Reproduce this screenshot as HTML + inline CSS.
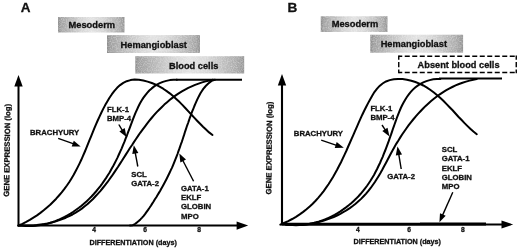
<!DOCTYPE html>
<html><head><meta charset="utf-8">
<style>
html,body{margin:0;padding:0;background:#fff;overflow:hidden}
svg{display:block}
text{font-family:"Liberation Sans",sans-serif;font-weight:bold;fill:#111;stroke:#111;stroke-width:0.3px}
</style></head><body>
<svg width="520" height="249" viewBox="0 0 520 249">
<defs>
<linearGradient id="g" x1="0" x2="1" y1="0" y2="0">
<stop offset="0" stop-color="#8c8c8c"/><stop offset="0.04" stop-color="#a0a0a0"/><stop offset="0.18" stop-color="#b8b8b8"/><stop offset="0.35" stop-color="#d4d4d4"/><stop offset="0.5" stop-color="#e2e2e2"/><stop offset="0.65" stop-color="#d8d8d8"/><stop offset="0.8" stop-color="#c0c0c0"/><stop offset="0.93" stop-color="#aaaaaa"/><stop offset="1" stop-color="#949494"/>
</linearGradient>
<filter id="n" x="0" y="0" width="100%" height="100%" color-interpolation-filters="sRGB">
<feTurbulence type="fractalNoise" baseFrequency="0.8" numOctaves="2" seed="3" result="t"/>
<feColorMatrix in="t" type="matrix" values="0 0 0 0 0  0 0 0 0 0  0 0 0 0 0  0.8 0 0 0 -0.3" result="a"/>
<feFlood flood-color="#ffffff" result="w"/>
<feComposite in="w" in2="a" operator="in" result="wn"/>
<feComposite in="wn" in2="SourceGraphic" operator="atop"/>
</filter>
</defs>
<rect width="520" height="249" fill="#fff"/>
<g id="A">
<text x="20.7" y="12.3" font-size="13.50">A</text>
<rect x="58" y="17" width="66.5" height="15.5" fill="url(#g)" filter="url(#n)"/>
<text x="68.5" y="27.6" font-size="9.32">Mesoderm</text>
<rect x="107" y="35.1" width="93" height="17.9" fill="url(#g)" filter="url(#n)"/>
<text x="120.6" y="47.7" font-size="9.25">Hemangioblast</text>
<rect x="135.3" y="56.2" width="108.9" height="17.3" fill="url(#g)" filter="url(#n)"/>
<text x="169.0" y="68.9" font-size="9.25">Blood cells</text>
<path d="M18.5,84 V225.6 H240" fill="none" stroke="#000" stroke-width="2"/>
<path d="M18.5,75 L14.3,86.6 H22.7Z" fill="#000"/>
<path d="M248.2,225.6 L236.6,221.5 V229.7Z" fill="#000"/>
<path d="M176,79.75 H242" fill="none" stroke="#000" stroke-width="2"/>
<g fill="none" stroke="#000" stroke-width="2" stroke-linecap="round" stroke-linejoin="round">
<path d="M18.5,225.5 L22.4,223.8 L26.2,221.9 L29.8,219.9 L33.4,217.7 L37.0,215.4 L40.4,212.9 L43.7,210.3 L47.0,207.5 L50.2,204.7 L53.2,201.7 L56.2,198.7 L59.0,195.5 L61.7,192.3 L64.4,188.9 L66.9,185.5 L69.3,182.0 L71.5,178.4 L73.7,174.8 L75.7,171.1 L77.6,167.4 L79.5,163.6 L81.3,159.8 L83.0,155.9 L84.7,152.0 L86.3,148.1 L87.9,144.2 L89.5,140.2 L91.1,136.3 L92.7,132.3 L94.3,128.4 L96.0,124.4 L97.7,120.5 L99.5,116.6 L101.3,112.8 L103.2,108.9 L105.2,105.1 L107.3,101.4 L109.5,97.7 L111.9,94.2 L114.4,90.9 L117.1,87.8 L120.1,85.1 L123.3,82.9 L126.7,81.2 L130.5,80.1 L134.6,79.6 L138.9,79.8 L143.3,80.5 L147.6,81.6 L151.8,83.0 L155.8,84.7 L159.6,86.6 L163.2,88.7 L166.7,91.1 L170.1,93.6 L173.3,96.3 L176.5,99.2 L179.6,102.1 L182.6,105.1 L185.5,108.2 L188.4,111.4 L191.3,114.5 L194.2,117.6 L197.1,120.7 L200.1,123.8 L203.0,126.8 L206.0,129.6 L209.1,132.4 L212.5,135.0"/>
<path d="M18.5,225.5 L21.9,225.6 L25.4,225.9 L28.8,226.0 L32.3,226.0 L35.7,225.7 L39.0,225.3 L42.4,224.8 L45.7,224.1 L48.9,223.2 L52.1,222.2 L55.3,221.1 L58.5,219.8 L61.5,218.4 L64.6,216.9 L67.5,215.3 L70.5,213.6 L73.3,211.8 L76.1,209.8 L78.9,207.8 L81.5,205.7 L84.1,203.5 L86.7,201.2 L89.1,198.9 L91.5,196.5 L93.8,194.0 L96.0,191.5 L98.1,188.9 L100.2,186.3 L102.2,183.6 L104.1,180.9 L106.0,178.1 L107.8,175.3 L109.6,172.5 L111.2,169.6 L112.9,166.6 L114.4,163.7 L116.0,160.6 L117.5,157.6 L118.9,154.5 L120.3,151.4 L121.7,148.3 L123.0,145.1 L124.4,141.9 L125.6,138.7 L126.9,135.5 L128.1,132.2 L129.4,128.9 L130.6,125.7 L131.8,122.4 L133.0,119.1 L134.3,115.9 L135.6,112.7 L137.0,109.6 L138.4,106.5 L139.9,103.5 L141.5,100.7 L143.3,97.9 L145.2,95.3 L147.2,92.8 L149.3,90.5 L151.7,88.4 L154.2,86.4 L156.9,84.7 L159.8,83.2 L162.9,81.9 L166.3,80.9 L169.8,80.1 L173.6,79.7 L177.0,79.8"/>
<path d="M18.5,225.5 L22.2,225.6 L25.9,225.6 L29.5,225.6 L33.2,225.4 L36.9,225.1 L40.6,224.6 L44.3,224.1 L48.0,223.4 L51.6,222.5 L55.2,221.5 L58.8,220.4 L62.3,219.1 L65.8,217.7 L69.2,216.2 L72.5,214.5 L75.7,212.6 L78.8,210.7 L81.8,208.6 L84.7,206.3 L87.6,204.0 L90.3,201.5 L93.0,199.0 L95.5,196.3 L98.0,193.6 L100.5,190.8 L102.8,188.0 L105.1,185.1 L107.4,182.2 L109.5,179.2 L111.7,176.2 L113.8,173.1 L115.8,170.1 L117.9,167.0 L119.9,163.9 L121.9,160.8 L123.8,157.7 L125.8,154.6 L127.8,151.5 L129.8,148.3 L131.9,145.2 L133.9,142.1 L136.0,139.0 L138.1,135.9 L140.2,132.8 L142.4,129.8 L144.7,126.8 L146.9,123.8 L149.2,120.9 L151.6,118.0 L154.0,115.2 L156.5,112.4 L159.1,109.8 L161.7,107.2 L164.3,104.6 L167.1,102.2 L169.9,99.8 L172.7,97.6 L175.7,95.4 L178.7,93.4 L181.9,91.4 L185.1,89.6 L188.3,87.9 L191.7,86.4 L195.1,84.9 L198.6,83.6 L202.1,82.4 L205.7,81.4 L209.4,80.5 L213.0,79.8"/>
<path d="M130.0,225.5 L132.8,225.2 L134.9,224.0 L136.8,222.6 L138.7,221.0 L140.4,219.4 L142.1,217.6 L143.7,215.8 L145.2,213.9 L146.6,211.9 L148.1,209.8 L149.5,207.8 L150.9,205.7 L152.2,203.6 L153.6,201.5 L154.9,199.3 L156.3,197.2 L157.6,195.0 L158.9,192.9 L160.2,190.7 L161.4,188.5 L162.7,186.2 L163.9,184.0 L165.1,181.8 L166.3,179.5 L167.4,177.3 L168.5,175.0 L169.6,172.7 L170.7,170.4 L171.8,168.1 L172.8,165.8 L173.8,163.4 L174.7,161.1 L175.7,158.7 L176.6,156.4 L177.5,154.0 L178.3,151.6 L179.2,149.2 L180.0,146.9 L180.8,144.5 L181.7,142.1 L182.5,139.7 L183.3,137.3 L184.1,134.9 L184.8,132.5 L185.6,130.1 L186.4,127.7 L187.2,125.3 L188.1,123.0 L188.9,120.6 L189.7,118.2 L190.6,115.9 L191.4,113.5 L192.3,111.2 L193.3,108.8 L194.2,106.5 L195.2,104.2 L196.2,101.9 L197.2,99.7 L198.3,97.4 L199.4,95.2 L200.6,93.0 L201.9,91.0 L203.3,88.9 L204.9,87.0 L206.5,85.2 L208.3,83.5 L210.3,81.9 L212.4,80.5 L215.0,79.8"/>
</g>
<text x="30.0" y="134.5" font-size="7.75">BRACHYURY</text>
<path d="M58.2,138.3 L73.7,143.9" stroke="#000" stroke-width="1.4" fill="none"/><path d="M80.7,146.5 L71.7,146.5 L73.8,140.7 Z" fill="#000"/><text x="107.0" y="111.5" font-size="7.75">FLK-1</text>
<text x="107.0" y="120.8" font-size="7.75">BMP-4</text>
<path d="M118.8,124.5 L122.5,130.6" stroke="#000" stroke-width="1.4" fill="none"/><path d="M126.5,137.0 L119.4,131.4 L124.7,128.1 Z" fill="#000"/><text x="131.3" y="176.5" font-size="7.75">SCL</text>
<text x="131.3" y="185.8" font-size="7.75">GATA-2</text>
<path d="M137.8,166.5 L135.2,152.6" stroke="#000" stroke-width="1.4" fill="none"/><path d="M133.8,145.2 L138.4,153.0 L132.3,154.1 Z" fill="#000"/><text x="181.0" y="191.0" font-size="7.75">GATA-1</text>
<text x="181.0" y="200.2" font-size="7.75">EKLF</text>
<text x="181.0" y="209.4" font-size="7.75">GLOBIN</text>
<text x="181.0" y="218.6" font-size="7.75">MPO</text>
<path d="M193.6,181.2 L182.7,160.2" stroke="#000" stroke-width="1.4" fill="none"/><path d="M179.3,153.5 L186.0,159.6 L180.4,162.5 Z" fill="#000"/><text x="92.3" y="232.4" font-size="6.70">4</text>
<text x="143.2" y="232.4" font-size="6.70">6</text>
<text x="197.2" y="232.4" font-size="6.70">8</text>
<text x="89.5" y="244.5" font-size="7.19">DIFFERENTIATION (days)</text>
<text transform="translate(9.1,196.7) rotate(-89.2)" font-size="7.7">GENE EXPRESSION (log)</text>
</g>
<g id="B">
<text x="287.6" y="11.6" font-size="13.60">B</text>
<rect x="320.75" y="16.25" width="66.75" height="15.75" fill="url(#g)" filter="url(#n)"/>
<text x="331.7" y="27.1" font-size="9.32">Mesoderm</text>
<rect x="370.3" y="34.7" width="92.8" height="18" fill="url(#g)" filter="url(#n)"/>
<text x="380.7" y="47.0" font-size="9.25">Hemangioblast</text>
<g fill="none" stroke="#000" stroke-width="1.4" stroke-dasharray="5 2.5" stroke-dashoffset="1.5"><path d="M398.75,56.25 H516.25"/><path d="M398.75,72.5 H516.25"/></g><g fill="none" stroke="#000" stroke-width="1.4"><path d="M398.75,55.55 V59.8 M398.75,62 V67.2 M398.75,69.6 V73.2 M516.25,55.55 V59.8 M516.25,62 V67.2 M516.25,69.6 V73.2"/></g>
<text x="417.6" y="67.9" font-size="9.22">Absent blood cells</text>
<path d="M282,83 V224.5 H505" fill="none" stroke="#000" stroke-width="2.1"/>
<path d="M282,224.1 H420" fill="none" stroke="#000" stroke-width="2.6"/><path d="M420,224.1 H486" fill="none" stroke="#000" stroke-width="3"/>
<path d="M282,74 L277.8,85.6 H286.2Z" fill="#000"/>
<path d="M513.2,224.5 L501.5,220.4 V228.6Z" fill="#000"/>
<path d="M439,78.6 H502" fill="none" stroke="#000" stroke-width="2"/>
<g fill="none" stroke="#000" stroke-width="2" stroke-linecap="round">
<path d="M280.3,224.7 L284.0,223.0 L288.2,221.1 L292.2,219.0 L296.0,216.8 L299.7,214.4 L303.2,211.9 L306.5,209.3 L309.7,206.5 L312.7,203.7 L315.6,200.7 L318.4,197.6 L321.1,194.4 L323.7,191.1 L326.1,187.7 L328.5,184.3 L330.7,180.8 L332.9,177.2 L335.0,173.5 L337.1,169.8 L339.0,166.0 L341.0,162.2 L342.8,158.3 L344.7,154.4 L346.5,150.5 L348.2,146.5 L350.0,142.5 L351.7,138.6 L353.5,134.6 L355.2,130.6 L357.0,126.6 L358.7,122.6 L360.5,118.7 L362.3,114.7 L364.2,110.8 L366.1,107.0 L368.1,103.1 L370.1,99.4 L372.2,95.7 L374.4,92.1 L376.9,88.9 L379.6,85.9 L382.6,83.5 L386.0,81.5 L389.7,80.1 L393.8,79.2 L398.1,78.9 L402.5,79.1 L406.9,79.7 L411.3,80.7 L415.4,82.0 L419.4,83.6 L423.3,85.5 L427.0,87.6 L430.5,90.0 L433.9,92.5 L437.2,95.2 L440.4,98.1 L443.6,101.0 L446.6,104.1 L449.6,107.2 L452.6,110.3 L455.5,113.5 L458.4,116.7 L461.4,119.8 L464.3,122.9 L467.3,125.9 L470.3,128.8 L473.4,131.6 L476.8,134.2"/>
<path d="M285.8,224.7 L289.2,224.8 L292.6,225.1 L296.0,225.2 L299.3,225.1 L302.7,224.9 L306.0,224.5 L309.4,223.9 L312.7,223.3 L315.9,222.4 L319.2,221.5 L322.3,220.4 L325.5,219.2 L328.6,217.8 L331.6,216.4 L334.6,214.8 L337.6,213.1 L340.4,211.3 L343.2,209.4 L346.0,207.4 L348.7,205.3 L351.2,203.2 L353.7,200.9 L356.2,198.6 L358.5,196.2 L360.7,193.8 L362.9,191.2 L364.9,188.6 L366.9,186.0 L368.8,183.3 L370.6,180.5 L372.3,177.7 L374.0,174.9 L375.5,172.0 L377.1,169.0 L378.5,166.0 L380.0,163.0 L381.3,159.9 L382.7,156.8 L383.9,153.7 L385.2,150.5 L386.4,147.4 L387.6,144.1 L388.8,140.9 L389.9,137.7 L391.1,134.4 L392.2,131.1 L393.3,127.8 L394.5,124.5 L395.6,121.3 L396.8,118.0 L398.0,114.8 L399.3,111.6 L400.6,108.5 L402.0,105.5 L403.6,102.5 L405.2,99.7 L406.9,97.0 L408.8,94.4 L410.8,91.9 L412.9,89.6 L415.2,87.5 L417.7,85.6 L420.4,83.8 L423.3,82.3 L426.4,81.1 L429.7,80.1 L433.2,79.3 L436.9,78.9 L440.3,79.0"/>
<path d="M286.8,224.7 L290.4,224.8 L294.1,224.9 L297.8,224.9 L301.4,224.7 L305.1,224.4 L308.8,223.9 L312.4,223.3 L316.0,222.6 L319.6,221.8 L323.2,220.8 L326.7,219.6 L330.2,218.4 L333.7,217.0 L337.0,215.5 L340.3,213.8 L343.6,212.0 L346.7,210.1 L349.8,208.1 L352.7,206.0 L355.6,203.7 L358.4,201.3 L361.1,198.9 L363.6,196.3 L366.1,193.6 L368.4,190.8 L370.7,188.0 L372.8,185.0 L374.9,182.0 L376.8,179.0 L378.7,175.9 L380.6,172.7 L382.4,169.5 L384.1,166.3 L385.9,163.0 L387.6,159.8 L389.3,156.5 L391.0,153.3 L392.8,150.0 L394.6,146.8 L396.4,143.6 L398.4,140.5 L400.3,137.4 L402.3,134.3 L404.4,131.2 L406.5,128.2 L408.7,125.2 L410.9,122.3 L413.2,119.5 L415.6,116.6 L418.0,113.9 L420.5,111.2 L423.1,108.5 L425.7,105.9 L428.4,103.4 L431.1,101.0 L433.9,98.7 L436.8,96.5 L439.8,94.3 L442.8,92.3 L445.9,90.4 L449.1,88.6 L452.3,87.0 L455.6,85.4 L459.0,84.0 L462.5,82.7 L466.0,81.6 L469.6,80.6 L473.2,79.7 L476.8,79.0"/>
</g>
<text x="293.8" y="136.0" font-size="7.75">BRACHYURY</text>
<path d="M321.2,140.2 L336.6,145.4" stroke="#000" stroke-width="1.4" fill="none"/><path d="M343.8,147.8 L334.7,148.0 L336.7,142.1 Z" fill="#000"/><text x="370.4" y="110.6" font-size="7.75">FLK-1</text>
<text x="370.4" y="120.0" font-size="7.75">BMP-4</text>
<path d="M382.0,125.0 L385.4,130.2" stroke="#000" stroke-width="1.4" fill="none"/><path d="M389.5,136.5 L382.3,131.1 L387.5,127.7 Z" fill="#000"/><text x="387.3" y="178.5" font-size="7.75">GATA-2</text>
<path d="M401.2,169.0 L398.7,153.9" stroke="#000" stroke-width="1.4" fill="none"/><path d="M397.5,146.5 L402.0,154.4 L395.8,155.4 Z" fill="#000"/><text x="441.8" y="152.0" font-size="7.75">SCL</text>
<text x="441.8" y="161.4" font-size="7.75">GATA-1</text>
<text x="441.8" y="170.7" font-size="7.75">EKLF</text>
<text x="441.8" y="179.9" font-size="7.75">GLOBIN</text>
<text x="441.8" y="189.2" font-size="7.75">MPO</text>
<path d="M452.8,192.3 L442.5,215.4" stroke="#000" stroke-width="1.4" fill="none"/><path d="M439.4,222.2 L440.0,213.2 L445.7,215.7 Z" fill="#000"/><text x="356.0" y="232.4" font-size="6.70">4</text>
<text x="407.2" y="232.4" font-size="6.70">6</text>
<text x="461.0" y="232.4" font-size="6.70">8</text>
<text x="353.6" y="244.3" font-size="7.20">DIFFERENTIATION (days)</text>
<text transform="translate(271.2,194.4) rotate(-89.3)" font-size="7.7">GENE EXPRESSION (log)</text>
</g>
</svg>
</body></html>
